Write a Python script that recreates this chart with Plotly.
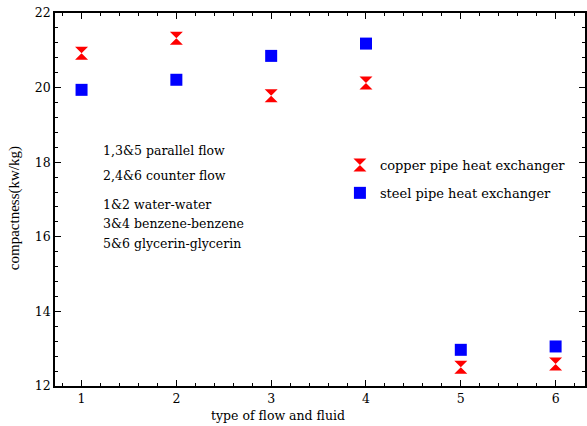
import plotly.graph_objects as go

# Flow/fluid case number on the x axis
cases = [1, 2, 3, 4, 5, 6]
# Compactness (kW/kg) for each heat exchanger
copper = [20.92, 21.32, 19.78, 20.12, 12.50, 12.59]
steel = [19.94, 20.21, 20.85, 21.18, 12.97, 13.06]

notes = [
    "1,3&5 parallel flow",
    "2,4&6 counter flow",
    "1&2 water-water",
    "3&4 benzene-benzene",
    "5&6 glycerin-glycerin",
]
note_y = [150, 175, 204, 223, 243]  # pixel rows of the note lines

W, H = 587, 426
ML, MR, MT, MB = 55, 0, 13, 40
serif = "DejaVu Serif"
pw, ph = W - ML - MR, H - MT - MB


def px_x(p):
    return (p - ML) / pw


def px_y(p):
    return 1 - (p - MT) / ph


fig = go.Figure()
fig.add_trace(go.Scatter(
    x=cases, y=copper, mode="markers", name="copper pipe heat exchanger",
    legendgroup="a",
    marker=dict(symbol="hourglass", size=13, color="#ff0000",
                line=dict(width=0)),
))
fig.add_trace(go.Scatter(
    x=cases, y=steel, mode="markers", name="steel pipe heat exchanger",
    legendgroup="b",
    marker=dict(symbol="square", size=12, color="#0000ff",
                line=dict(width=0)),
))

axis_common = dict(
    showline=True, linecolor="black", linewidth=1.5, mirror="ticks",
    ticks="inside", tickcolor="black", tickwidth=1, ticklen=6,
    showgrid=False, zeroline=False,
    tickfont=dict(family=serif, size=12.5, color="black"),
)

fig.update_xaxes(
    range=[0.72, 6.31], tickmode="array", tickvals=cases,
    ticktext=[str(c) for c in cases],
    minor=dict(dtick=0.2, ticks="inside", ticklen=3, tickcolor="black",
               showgrid=False),
    **axis_common,
)
fig.update_yaxes(
    range=[12, 22], dtick=2,
    minor=dict(dtick=0.4, ticks="inside", ticklen=3, tickcolor="black",
               showgrid=False),
    **axis_common,
)

# axis titles
fig.add_annotation(
    text="type of flow and fluid", x=px_x(279), y=px_y(415),
    xref="paper", yref="paper", xanchor="center", yanchor="middle",
    showarrow=False, font=dict(family=serif, size=12.5, color="black"),
)
fig.add_annotation(
    text="compactness(kw/kg)", x=px_x(14), y=px_y(208), textangle=-90,
    xref="paper", yref="paper", xanchor="center", yanchor="middle",
    showarrow=False, font=dict(family="Liberation Serif", size=15,
                               color="black"),
)

for txt, py in zip(notes, note_y):
    fig.add_annotation(
        text=txt, x=px_x(101), y=px_y(py),
        xref="paper", yref="paper", xanchor="left", yanchor="middle",
        showarrow=False, font=dict(family=serif, size=12.5, color="black"),
    )

fig.update_layout(
    width=W, height=H,
    margin=dict(l=ML, r=MR, t=MT, b=MB),
    paper_bgcolor="white", plot_bgcolor="white",
    legend=dict(x=px_x(341), y=px_y(150),
                xanchor="left", yanchor="top",
                font=dict(family=serif, size=13, color="black"),
                bgcolor="rgba(0,0,0,0)", tracegroupgap=8),
    showlegend=True,
)

fig.write_html("out.html")
